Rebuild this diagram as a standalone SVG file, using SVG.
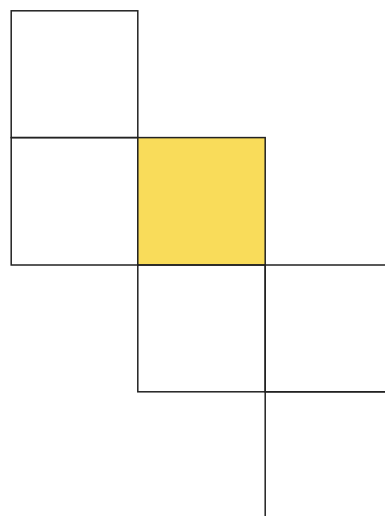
<svg xmlns="http://www.w3.org/2000/svg" width="385" height="516" viewBox="0 0 385 516">
<style>
.cell{fill:none;stroke:#222;stroke-width:1.5}
.hl{fill:#f9dc5a;stroke:#222;stroke-width:1.5}
</style>
<rect width="385" height="516" fill="#ffffff"/>
<g id="cell-a"><rect class="cell" x="11.2" y="10.8" width="126.6" height="126.8"/></g>
<g id="cell-b"><rect class="cell" x="11.2" y="137.6" width="126.6" height="127.4"/></g>
<g id="cell-yellow"><rect class="hl" x="137.8" y="137.6" width="127.4" height="127.4"/></g>
<g id="cell-c"><rect class="cell" x="137.8" y="265" width="127.4" height="126.8"/></g>
<g id="cell-d"><rect class="cell" x="265.2" y="265" width="127" height="126.8"/></g>
<g id="cell-e"><rect class="cell" x="265.2" y="391.8" width="127" height="127"/></g>
</svg>
